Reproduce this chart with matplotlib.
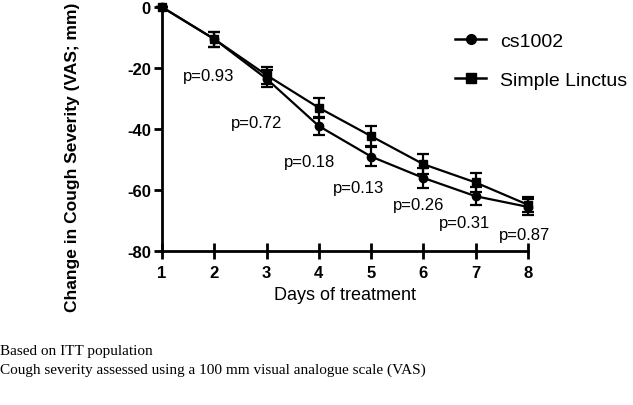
import matplotlib.pyplot as plt
from matplotlib.lines import Line2D

plt.rcParams['font.family'] = ['Liberation Sans', 'DejaVu Sans']
plt.rcParams['axes.unicode_minus'] = False

days = [1, 2, 3, 4, 5, 6, 7, 8]
cs1002 = [0, -10.5, -23.5, -39, -49, -56, -62, -65.5]
cs1002_err = [0, 2.5, 2.8, 3.0, 3.2, 3.2, 3.0, 2.5]
linctus = [0, -10.5, -22.3, -33, -42.3, -51.5, -57.5, -64.8]
linctus_err = [0, 2.5, 2.8, 3.2, 3.2, 3.2, 3.0, 2.5]

p_labels = ['p=0.93', 'p=0.72', 'p=0.18', 'p=0.13', 'p=0.26', 'p=0.31', 'p=0.87']
p_x = [1.9, 2.8, 3.83, 4.75, 5.9, 6.78, 7.93]
p_y = [-22.3, -37.7, -50.5, -59, -64.6, -70.5, -74.4]

fig = plt.figure(figsize=(6.33, 4.06), dpi=100)
ax = fig.add_axes([0.256, 0.379, 0.578, 0.601])

ax.errorbar(days, cs1002, yerr=cs1002_err, color='black', marker='o', markersize=6,
            lw=1.6, capsize=4, elinewidth=1.6, capthick=1.6, clip_on=False)
ax.errorbar(days, linctus, yerr=linctus_err, color='black', marker='s', markersize=6,
            lw=1.6, capsize=4, elinewidth=1.6, capthick=1.6, clip_on=False)

for t, x, y in zip(p_labels, p_x, p_y):
    ax.text(x, y, t, ha='center', va='center', fontsize=12)

ax.set_xlim(1, 8)
ax.set_ylim(-80, 0)
ax.set_xticks(days)
ax.set_yticks([0, -20, -40, -60, -80])
for s in ['top', 'right']:
    ax.spines[s].set_visible(False)
for s in ['left', 'bottom']:
    ax.spines[s].set_linewidth(2)
ax.tick_params(width=2, labelsize=12)
ax.tick_params(axis='x', length=12, direction='inout', pad=4)
ax.tick_params(axis='y', length=6, direction='out', pad=2)
for lbl in ax.get_xticklabels() + ax.get_yticklabels():
    lbl.set_fontweight('bold')

ax.set_xlabel('Days of treatment', fontsize=13, labelpad=4)
ax.set_ylabel('Change in Cough Severity (VAS; mm)', fontsize=12.5, fontweight='bold')
ax.yaxis.set_label_coords(-0.223, 0.39)

handles = [Line2D([], [], color='black', marker='o', markersize=7, lw=1.8),
           Line2D([], [], color='black', marker='s', markersize=7, lw=1.8)]
ax.legend(handles, ['cs1002', 'Simple Linctus'], loc='upper left', bbox_to_anchor=(0.78, 0.93),
          frameon=False, fontsize=14, handlelength=1.6, handletextpad=0.7,
          labelspacing=1.1, borderaxespad=0)

fig.text(0.0, 0.135, 'Based on ITT population', family='Liberation Serif', fontsize=11, va='center')
fig.text(0.0, 0.089, 'Cough severity assessed using a 100 mm visual analogue scale (VAS)',
         family='Liberation Serif', fontsize=11, va='center')

fig.savefig('out.png', dpi=100)
